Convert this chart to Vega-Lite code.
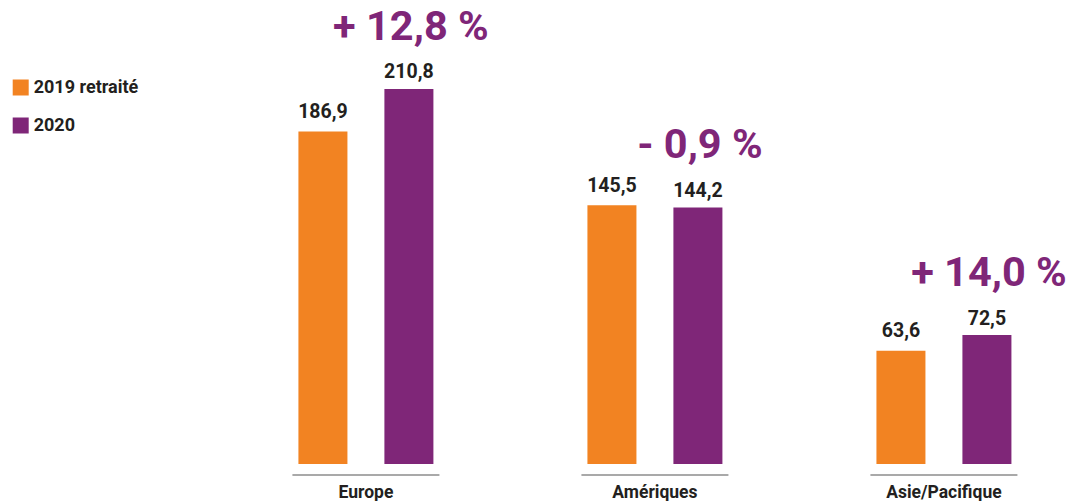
{
  "$schema": "https://vega.github.io/schema/vega-lite/v6.json",
  "width": 1071,
  "height": 464,
  "autosize": {"type": "none"},
  "padding": {"left": 0, "top": 0, "right": 0, "bottom": 37},
  "background": "white",
  "config": {
    "view": {"stroke": null},
    "font": "Roboto",
    "locale": {"number": {"decimal": ",", "thousands": "\u00a0", "grouping": [3], "currency": ["", "\u00a0€"]}}
  },
  "data": {
    "values": [
      {"region": "Europe", "series": "2019 retraité", "value": 186.9, "chg": ""},
      {"region": "Europe", "series": "2020", "value": 210.8, "chg": "+ 12,8 %"},
      {"region": "Amériques", "series": "2019 retraité", "value": 145.5, "chg": ""},
      {"region": "Amériques", "series": "2020", "value": 144.2, "chg": "- 0,9 %"},
      {"region": "Asie/Pacifique", "series": "2019 retraité", "value": 63.6, "chg": ""},
      {"region": "Asie/Pacifique", "series": "2020", "value": 72.5, "chg": "+ 14,0 %"}
    ]
  },
  "encoding": {
    "x": {
      "field": "region",
      "type": "nominal",
      "sort": ["Europe", "Amériques", "Asie/Pacifique"],
      "scale": {"paddingInner": 0.405, "paddingOuter": 0.5554, "align": 0.872},
      "axis": {
        "title": null,
        "domain": false,
        "ticks": false,
        "labelAngle": 0,
        "labelFont": "Roboto",
        "labelFontWeight": "bold",
        "labelFontSize": 17.5,
        "labelColor": "#231f20",
        "labelPadding": 19
      }
    },
    "y": {
      "field": "value",
      "type": "quantitative",
      "scale": {"domain": [0, 260.8], "nice": false, "zero": true},
      "axis": null
    }
  },
  "layer": [
    {
      "mark": {"type": "bar"},
      "encoding": {
        "xOffset": {"field": "series", "type": "nominal", "scale": {"domain": ["2019 retraité", "2020"], "paddingInner": 0.43, "paddingOuter": 0.215}},
        "color": {
          "field": "series",
          "type": "nominal",
          "scale": {"domain": ["2019 retraité", "2020"], "range": ["#f28322", "#7f2678"]},
          "legend": {
            "orient": "none",
            "legendX": 11.7,
            "legendY": 78.5,
            "title": null,
            "symbolType": "square",
            "symbolSize": 256,
            "symbolStrokeWidth": 0,
            "labelFont": "Roboto",
            "labelFontSize": 18,
            "labelFontWeight": "bold",
            "labelColor": "#231f20",
            "labelOffset": 4,
            "rowPadding": 20,
            "padding": 0
          }
        }
      }
    },
    {
      "transform": [{"filter": "datum.series == '2019 retraité'"}],
      "mark": {"type": "text", "baseline": "middle", "dy": -19.5, "font": "Roboto", "fontWeight": "bold", "fontSize": 19.5, "color": "#231f20"},
      "encoding": {
        "xOffset": {"field": "series", "type": "nominal"},
        "text": {"field": "value", "type": "quantitative", "format": ".1f"}
      }
    },
    {
      "transform": [{"filter": "datum.series == '2020'"}],
      "mark": {"type": "text", "baseline": "middle", "dy": -16.5, "font": "Roboto", "fontWeight": "bold", "fontSize": 19.5, "color": "#231f20"},
      "encoding": {
        "xOffset": {"field": "series", "type": "nominal"},
        "text": {"field": "value", "type": "quantitative", "format": ".1f"}
      }
    },
    {
      "transform": [{"filter": "datum.series == '2020'"}],
      "mark": {"type": "text", "baseline": "middle", "dy": -61, "dx": 2, "font": "Roboto", "fontWeight": "bold", "fontSize": 41.5, "color": "#7f2678"},
      "encoding": {
        "xOffset": {"field": "series", "type": "nominal"},
        "text": {"field": "chg", "type": "nominal"}
      }
    },
    {
      "transform": [{"filter": "datum.series == '2020'"}],
      "mark": {"type": "tick", "orient": "horizontal", "size": 147, "thickness": 1.5, "yOffset": 11, "color": "#8c8c8c", "opacity": 1},
      "encoding": {"y": {"datum": 0}}
    }
  ]
}
